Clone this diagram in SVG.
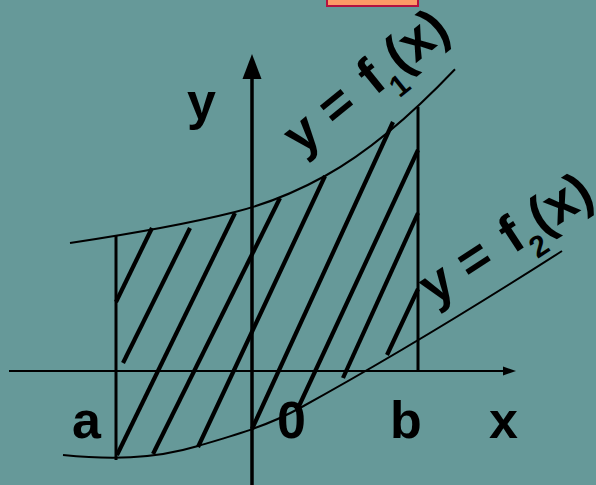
<svg xmlns="http://www.w3.org/2000/svg" width="596" height="485" viewBox="0 0 596 485">
<style>
.axis{stroke:#000;fill:none}
.curve{stroke:#000;stroke-width:2;fill:none}
.bound{stroke:#000;stroke-width:3;fill:none}
.hatch{stroke:#000;stroke-width:4.2;fill:none}
.lbl{font-family:"Liberation Sans",Arial,sans-serif;font-weight:bold;fill:#000}
</style>
<defs>
<marker id="arrY" markerUnits="userSpaceOnUse" markerWidth="26" markerHeight="20" refX="0" refY="9.5" orient="auto" overflow="visible"><path d="M0,0 L25,9.5 L0,19 z" fill="#000"/></marker>
<marker id="arrX" markerUnits="userSpaceOnUse" markerWidth="14" markerHeight="10" refX="0" refY="4.5" orient="auto" overflow="visible"><path d="M0,0 L13,4.5 L0,9 z" fill="#000"/></marker>
</defs>
<rect x="0" y="0" width="596" height="485" fill="#669999"/>
<g id="box"><rect x="327" y="-4" width="91" height="10" fill="#FF9966" stroke="#B51240" stroke-width="2"/></g>
<g id="connectors">
<g id="axes">
<path class="axis" stroke-width="2" d="M9,371 L503,371" marker-end="url(#arrX)"/>
<path class="axis" stroke-width="3.5" d="M252,485 L252,79" marker-end="url(#arrY)"/>
</g>
<g id="bounds">
<path class="bound" d="M116,235 L116,460"/>
<path class="bound" d="M418,106.7 L418,371"/>
</g>
<g id="curves">
<path class="curve" d="M70,243 C125,234.75 180,225.75 235,212 C265,204.5 295,192.5 325,176 C368.3,152.2 411.7,114.8 455,69.3"/>
<path class="curve" d="M63,455 C108,459.5 153,459.5 198,446 C232,435.8 266,426.7 300,408 C387.3,360 474.7,306.9 562,251"/>
</g>
<g id="hatching">
<path class="hatch" d="M152,228 L116,302"/>
<path class="hatch" d="M190,228 L123,363"/>
<path class="hatch" d="M235,213 L117,455"/>
<path class="hatch" d="M280,198 L153,454"/>
<path class="hatch" d="M325,176 L198,447"/>
<path class="hatch" d="M393,122 L252,429"/>
<path class="hatch" d="M418,150 L299,406"/>
<path class="hatch" d="M418,213 L343,378"/>
<path class="hatch" d="M418,289 L387,355"/>
</g>
</g>
<g id="labels" class="lbl">
<text x="187" y="119" font-size="52">y</text>
<text x="72" y="438" font-size="52">a</text>
<text x="277" y="438" font-size="52">0</text>
<text x="390" y="438" font-size="52">b</text>
<text x="489" y="438" font-size="52">x</text>
<text id="f1label" font-size="53" transform="translate(305.3,152.9) rotate(-39)" x="-5.4" y="0">y = <tspan dx="5.4">f</tspan><tspan font-size="30" dy="17">1</tspan><tspan dy="-17">(x)</tspan></text>
<text id="f2label" font-size="53" transform="translate(438.1,303.3) rotate(-33)" x="-5.4" y="0">y = <tspan dx="5.4">f</tspan><tspan font-size="30" dy="17">2</tspan><tspan dy="-17">(x)</tspan></text>
</g>
</svg>
